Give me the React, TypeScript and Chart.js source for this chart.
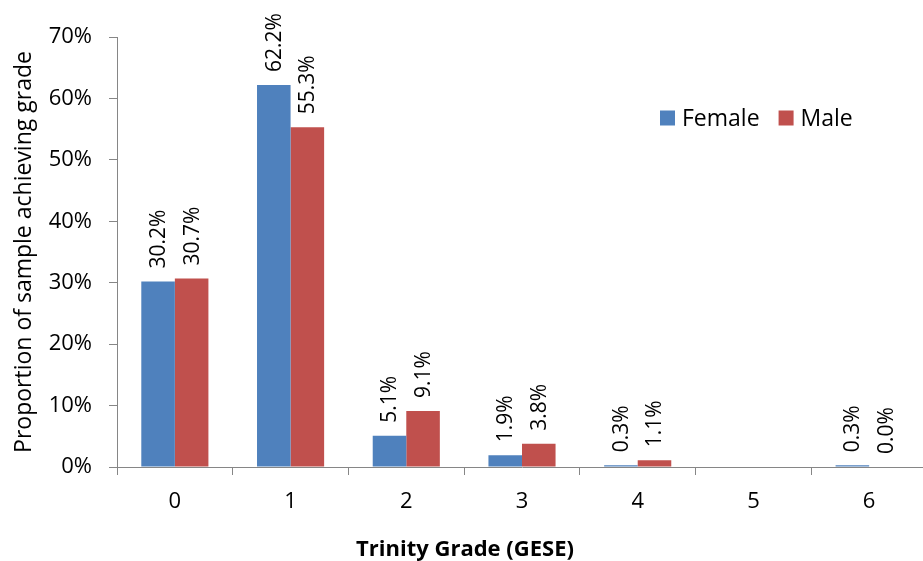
import React, { useEffect, useRef } from "react";
import { Chart, registerables } from "chart.js";

Chart.register(...registerables);

const categories = ["0", "1", "2", "3", "4", "5", "6"];
const femaleValues: (number | null)[] = [30.2, 62.2, 5.1, 1.9, 0.3, null, 0.3];
const maleValues: (number | null)[] = [30.7, 55.3, 9.1, 3.8, 1.1, null, 0.0];
const seriesNames = ["Female", "Male"];
const seriesColors = ["#4F81BD", "#C0504D"];
const yTicks = [0, 10, 20, 30, 40, 50, 60, 70];

const FONT = "'Open Sans', 'Noto Sans', sans-serif";

const labelPlugin = {
  id: "barLabels",
  afterDatasetsDraw(chart: any) {
    const ctx = chart.ctx;
    ctx.save();
    ctx.font = `21px ${FONT}`;
    ctx.fillStyle = "#000";
    ctx.textAlign = "left";
    ctx.textBaseline = "middle";
    chart.data.datasets.forEach((ds: any, di: number) => {
      const meta = chart.getDatasetMeta(di);
      meta.data.forEach((el: any, i: number) => {
        const v = ds.data[i];
        if (v === null || v === undefined) return;
        ctx.save();
        ctx.translate(el.x, el.y - 13);
        ctx.rotate(-Math.PI / 2);
        ctx.fillText(v.toFixed(1) + "%", 0, 1);
        ctx.restore();
      });
    });
    ctx.restore();
  },
};

const legendPlugin = {
  id: "insideLegend",
  afterDraw(chart: any) {
    const ctx = chart.ctx;
    ctx.save();
    ctx.font = `23px ${FONT}`;
    ctx.textBaseline = "middle";
    ctx.textAlign = "left";
    let x = chart.chartArea.right - 267;
    const y = chart.chartArea.top + 81;
    chart.data.datasets.forEach((ds: any) => {
      ctx.fillStyle = ds.backgroundColor;
      ctx.fillRect(x, y - 7.5, 15, 15);
      ctx.fillStyle = "#000";
      ctx.fillText(ds.label, x + 22, y + 1);
      x += 22 + ctx.measureText(ds.label).width + 19;
    });
    ctx.restore();
  },
};

const xTitlePlugin = {
  id: "xTitle",
  afterDraw(chart: any) {
    const ctx = chart.ctx;
    ctx.save();
    ctx.font = `bold 22px ${FONT}`;
    ctx.fillStyle = "#000";
    ctx.textAlign = "center";
    ctx.textBaseline = "middle";
    ctx.fillText("Trinity Grade (GESE)", chart.width / 2, 550);
    ctx.restore();
  },
};

export default function App() {
  const ref = useRef<HTMLCanvasElement | null>(null);
  useEffect(() => {
    if (!ref.current) return;
    const chart = new Chart(ref.current, {
      type: "bar",
      data: {
        labels: categories,
        datasets: [
          {
            label: seriesNames[0],
            data: femaleValues,
            backgroundColor: seriesColors[0],
            categoryPercentage: 0.58,
            barPercentage: 1,
          },
          {
            label: seriesNames[1],
            data: maleValues,
            backgroundColor: seriesColors[1],
            categoryPercentage: 0.58,
            barPercentage: 1,
          },
        ],
      },
      options: {
        animation: false,
        responsive: false,
        layout: { padding: { top: 37, right: 3, bottom: 0, left: 0 } },
        plugins: {
          legend: { display: false },
          tooltip: { enabled: false },
        },
        scales: {
          x: {
            grid: {
              drawOnChartArea: false,
              tickLength: 8,
              color: "#868686",
              offset: true,
            },
            border: { color: "#868686", width: 1 },
            ticks: {
              font: { family: FONT, size: 22 },
              color: "#000",
              padding: 14,
            },
            afterFit(scale: any) {
              scale.height = 94;
            },
          },
          y: {
            min: 0,
            max: 70,
            afterBuildTicks(scale: any) {
              scale.ticks = yTicks.map((v) => ({ value: v }));
            },
            grid: {
              drawOnChartArea: false,
              tickLength: 8,
              color: "#868686",
            },
            border: { color: "#868686", width: 1 },
            ticks: {
              font: { family: FONT, size: 22 },
              color: "#000",
              padding: 17,
              callback: (v: any) => `${v}%`,
            },
            title: {
              display: true,
              text: "Proportion of sample achieving grade",
              font: { family: FONT, size: 23 },
              color: "#000",
              padding: { top: 11, bottom: 0 },
            },
            afterFit(scale: any) {
              scale.width = 117;
            },
          },
        },
      },
      plugins: [labelPlugin, legendPlugin, xTitlePlugin],
    });
    return () => chart.destroy();
  }, []);
  return (
    <div
      style={{
        position: "fixed",
        left: 0,
        top: 0,
        width: 923,
        height: 561,
        overflow: "hidden",
        background: "#fff",
      }}
    >
      <canvas ref={ref} width={930} height={561} style={{ display: "block" }} />
    </div>
  );
}
